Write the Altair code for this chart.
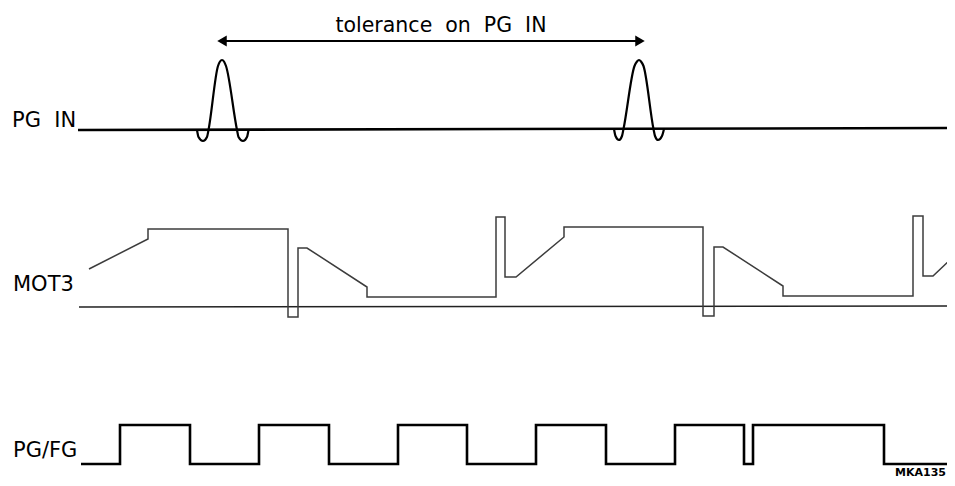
import altair as alt
import pandas as pd

# ---- data (diagram coordinates) ----
# PG IN baseline and pulses
pgin_base_x = [78, 955]
pgin_base_y = [130, 128]
pulse1_x = [197, 198.5, 203, 207, 208.5, 218, 220, 222, 224, 226, 237, 238.5, 243, 247, 248.5]
pulse1_y = [130, 137, 141, 137, 130, 66, 61.5, 60, 61.5, 66, 130, 137, 141, 137, 130]
pulse2_x = [614, 615.5, 619, 622, 623.5, 634.5, 637, 639, 641, 643.5, 653.5, 655, 658, 662, 664]
pulse2_y = [129, 136, 140, 136, 129, 66, 61.5, 60, 61.5, 66, 129, 136, 140, 136, 129]

# tolerance arrow
arrow_x = [217, 645]
arrow_y = 41

# MOT3 waveform
mot3_x = [89, 148, 148, 288, 288, 298, 298, 307, 367, 367, 496, 496, 505, 505, 516,
          564, 564, 703, 703, 714, 714, 723, 783, 783, 913, 913, 923, 923, 933, 953]
mot3_y = [269, 239, 229, 229, 317, 317, 248, 248, 287, 297, 297, 217, 217, 277, 277,
          237, 227, 227, 316, 316, 247, 247, 286, 296, 296, 216, 216, 276, 276, 257]
mot3_ref_x = [79, 955]
mot3_ref_y = [307, 306]

# PG/FG square wave
pgfg_edges = [81, 120, 190, 259, 329, 398, 467, 536, 606, 675, 744, 753, 884, 955]
pgfg_low = 464
pgfg_high = 425

# labels
label_text = ["PG\u00a0\u00a0IN", "MOT3", "PG/FG"]
label_x = [12, 13, 13]
label_y = [127, 291, 457]
title_text = "tolerance\u00a0\u00a0on\u00a0\u00a0PG\u00a0\u00a0IN"
title_x = 441
title_y = 32
code_text = "MKA135"
code_x = 946
code_y = 476

# ---- build tables ----
def seq(xs, ys, gid=0):
    return pd.DataFrame({"x": xs, "y": ys, "i": list(range(len(xs))), "g": gid})

pgin_base = seq(pgin_base_x, pgin_base_y)
pulses = pd.concat([seq(pulse1_x, pulse1_y, 1), seq(pulse2_x, pulse2_y, 2)])
mot3 = seq(mot3_x, mot3_y)
mot3_ref = seq(mot3_ref_x, mot3_ref_y)

sq_x, sq_y = [pgfg_edges[0]], [pgfg_low]
level = pgfg_low
for e in pgfg_edges[1:-1]:
    sq_x.append(e); sq_y.append(level)
    level = pgfg_high if level == pgfg_low else pgfg_low
    sq_x.append(e); sq_y.append(level)
sq_x.append(pgfg_edges[-1]); sq_y.append(level)
pgfg = seq(sq_x, sq_y)

arrow = pd.DataFrame({"x": [arrow_x[0] + 5], "x2": [arrow_x[1] - 5], "y": [arrow_y]})
head_l = pd.DataFrame({"x": [arrow_x[0]], "y": [arrow_y]})
head_r = pd.DataFrame({"x": [arrow_x[1]], "y": [arrow_y]})
labels = pd.DataFrame({"x": label_x, "y": label_y, "t": label_text})
title = pd.DataFrame({"x": [title_x], "y": [title_y], "t": [title_text]})
code = pd.DataFrame({"x": [code_x], "y": [code_y], "t": [code_text]})

XS = alt.Scale(domain=[8, 947], nice=False, zero=False)
YS = alt.Scale(domain=[8, 478], nice=False, zero=False, reverse=True)
X = alt.X("x:Q", scale=XS, axis=None)
Y = alt.Y("y:Q", scale=YS, axis=None)
FONT = "DejaVu Sans"

base_line = alt.Chart(pgin_base).mark_line(color="black", strokeWidth=2.6).encode(
    x=X, y=Y, order="i:Q")
pulse_line = alt.Chart(pulses).mark_line(color="black", strokeWidth=2.2, interpolate="monotone").encode(
    x=X, y=Y, detail="g:N", order="i:Q")
arrow_rule = alt.Chart(arrow).mark_rule(color="black", strokeWidth=2.2).encode(
    x=X, x2="x2:Q", y=Y)
arrow_l = alt.Chart(head_l).mark_point(shape="triangle-left", filled=True, color="black",
                                       size=120, opacity=1, xOffset=5).encode(x=X, y=Y)
arrow_r = alt.Chart(head_r).mark_point(shape="triangle-right", filled=True, color="black",
                                       size=120, opacity=1, xOffset=-5).encode(x=X, y=Y)
mot3_line = alt.Chart(mot3).mark_line(color="#3c3c3c", strokeWidth=1.5).encode(
    x=X, y=Y, order="i:Q")
mot3_ref_line = alt.Chart(mot3_ref).mark_line(color="#222222", strokeWidth=1.6).encode(
    x=X, y=Y, order="i:Q")
pgfg_line = alt.Chart(pgfg).mark_line(color="black", strokeWidth=2.6, strokeJoin="miter").encode(
    x=X, y=Y, order="i:Q")
label_marks = alt.Chart(labels).mark_text(font=FONT, fontSize=21, align="left",
                                          baseline="alphabetic", color="black").encode(
    x=X, y=Y, text="t:N")
title_mark = alt.Chart(title).mark_text(font=FONT, fontSize=20.5, align="center",
                                        baseline="alphabetic", color="black").encode(
    x=X, y=Y, text="t:N")
code_mark = alt.Chart(code).mark_text(font=FONT, fontSize=11, fontWeight="bold", align="right",
                                      baseline="alphabetic", color="black").encode(
    x=X, y=Y, text="t:N")

chart = alt.layer(
    base_line, pulse_line, arrow_rule, arrow_l, arrow_r,
    mot3_ref_line, mot3_line, pgfg_line, label_marks, title_mark, code_mark
).properties(
    width=939, height=470, padding=0, background="white",
    autosize=alt.AutoSizeParams(type="none")
).configure_view(stroke=None)

chart.save("out.html", embed_options={"renderer": "svg", "actions": False})
